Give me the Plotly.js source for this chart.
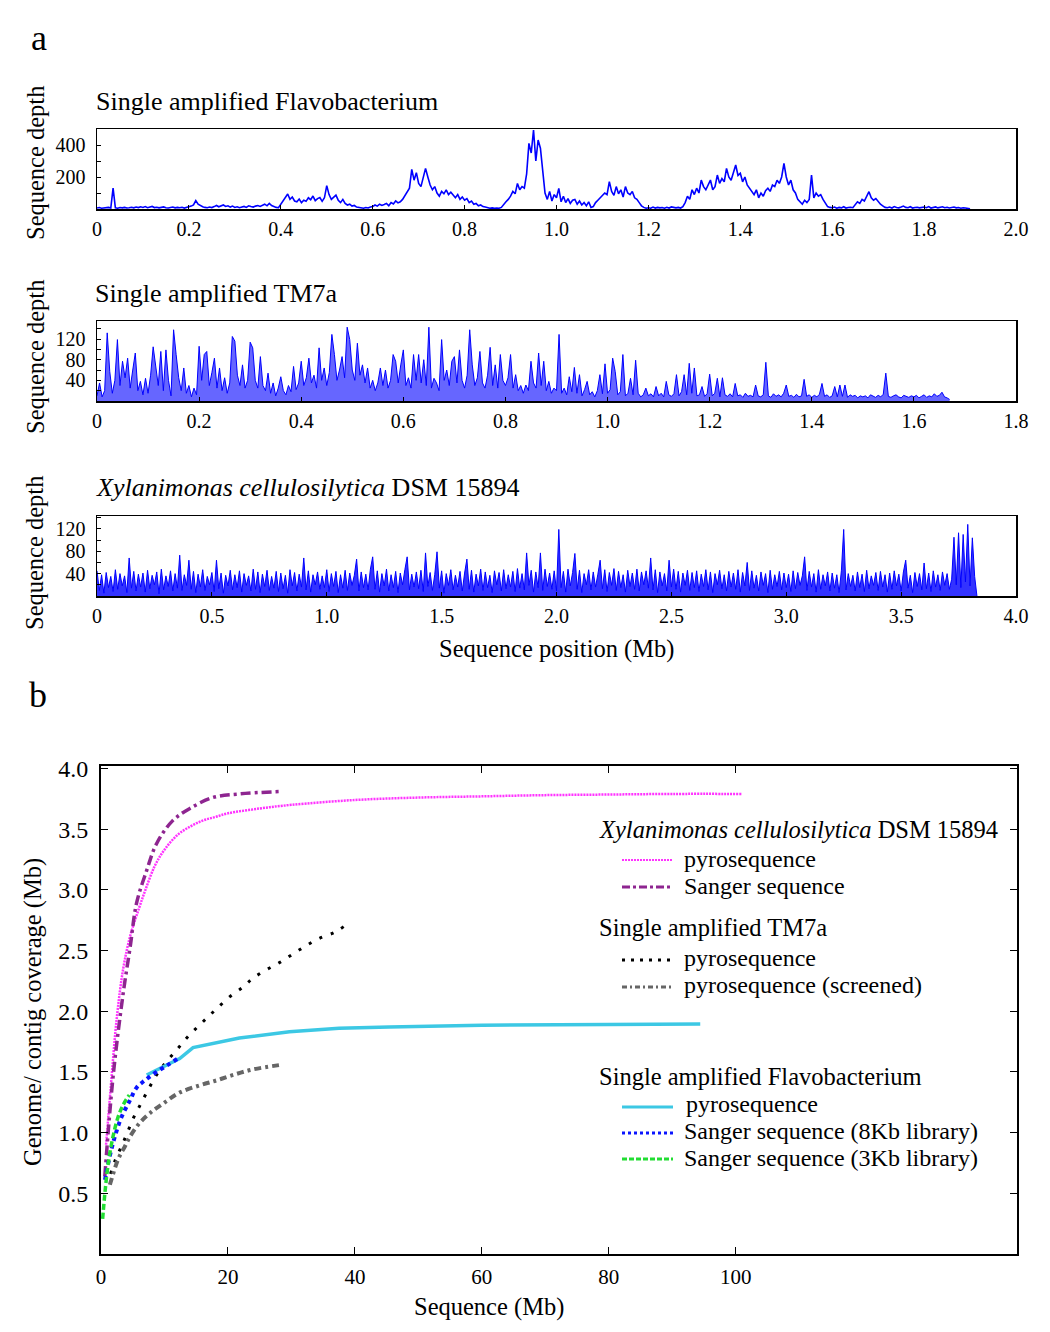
<!DOCTYPE html>
<html><head><meta charset="utf-8">
<script src="https://cdn.plot.ly/plotly-3.0.1.min.js"></script>
<style>html,body{margin:0;padding:0;background:#fff}</style>
</head><body><div id="chart" style="width:1050px;height:1332px"></div>
<script>
// ---------- Panel a: sequence depth (Mb positions, step per point) ----------
const flavoStep = 0.005;
const flavoDepth = [
6,9,5,8,7,10,6,130,8,5,9,7,10,6,8,11,7,12,9,14,
10,15,8,12,16,9,11,7,10,13,8,6,9,12,7,10,8,11,6,9,
12,18,25,52,30,20,14,10,8,12,9,15,22,14,18,25,16,20,12,18,
10,14,8,12,16,10,20,15,12,18,22,16,25,30,20,35,22,14,10,8,
30,55,70,94,60,75,50,45,62,40,55,48,70,58,81,52,65,72,48,70,
146,90,60,75,87,55,40,60,35,25,30,18,22,12,10,8,5,9,6,12,
15,25,18,30,22,28,35,20,40,32,50,38,45,60,85,110,130,248,180,227,
160,140,190,254,200,150,120,140,100,80,110,95,119,90,105,85,70,90,60,75,
55,65,40,50,30,35,20,25,15,12,8,5,7,4,6,5,10,30,45,60,
80,110,95,160,120,140,130,220,410,350,494,300,431,380,250,100,60,110,50,90,
70,129,45,80,40,65,35,55,60,30,50,25,40,20,45,10,15,40,55,70,
80,100,90,171,110,85,140,95,120,75,140,100,90,110,70,60,40,20,10,5,
8,5,12,6,10,7,9,5,11,6,13,8,7,10,6,15,40,80,60,120,
90,130,100,181,140,120,150,181,120,140,212,160,190,170,254,200,180,230,275,210,
223,170,200,150,130,110,90,120,70,100,80,115,130,110,150,140,180,160,200,285,
200,150,180,120,100,60,45,30,55,40,60,212,70,100,80,90,60,40,15,10,
8,12,5,10,7,14,6,9,11,8,30,45,35,60,50,80,108,70,55,65,
45,30,20,10,8,12,6,15,9,7,12,18,10,8,14,6,9,11,7,10,
12,8,15,6,10,13,7,9,14,8,11,6,10,12,7,9,5,8,6,4,2];

const tm7Step = 0.005;
const tm7Depth = [
10,35,8,20,132,57,15,40,119,30,77,45,83,25,60,93,20,38,12,44,
15,50,105,70,30,96,20,99,40,10,138,90,45,20,64,15,30,8,25,12,
106,40,90,96,30,55,83,25,64,20,45,15,35,125,116,50,30,70,25,40,
114,103,40,25,86,30,20,54,15,35,10,25,47,20,12,30,18,67,22,35,
77,30,45,83,35,50,25,103,40,64,30,55,129,90,40,60,86,45,143,119,
60,40,112,50,70,35,64,25,40,20,35,64,30,60,25,40,90,77,35,70,
99,30,45,25,90,40,90,35,80,30,143,25,44,35,20,119,40,60,30,77,
86,35,99,40,25,50,138,70,30,45,96,35,25,50,104,30,70,25,90,40,
30,45,90,25,51,20,30,15,31,20,77,35,25,93,30,77,20,38,15,25,
20,129,15,25,12,47,18,65,15,51,10,22,38,12,18,8,20,51,14,72,
15,22,83,57,12,18,90,10,15,44,12,79,15,8,12,25,10,14,8,28,
10,15,8,38,12,9,14,51,10,18,51,12,73,15,64,10,12,28,9,14,
52,10,15,44,8,45,12,9,14,8,34,10,12,7,15,9,11,8,31,10,
8,12,75,10,7,14,9,12,8,15,31,9,11,7,13,8,10,42,9,12,
7,11,8,13,34,9,12,7,10,28,8,31,9,31,7,12,9,11,6,10,
8,10,6,12,9,7,11,8,13,54,9,7,10,12,8,6,11,9,7,10,
8,11,6,9,12,7,10,8,14,9,11,17,8,6,3];

const xylStep = 0.01;
const xylDepth = [
45,10,38,5,42,15,35,8,47,12,40,18,36,6,68,14,44,9,39,16,
41,7,46,13,37,20,43,4,48,11,36,17,45,9,40,14,73,10,38,19,
64,12,44,6,39,16,47,10,35,20,42,8,64,13,41,5,37,18,46,11,
38,15,45,7,40,19,36,9,48,12,43,6,39,17,46,10,35,14,44,8,
41,13,37,5,47,18,42,9,39,16,68,11,45,7,38,20,43,12,36,15,
47,8,40,17,44,6,38,14,46,10,41,19,37,66,9,43,15,39,11,48,
70,12,45,7,40,18,48,9,38,15,44,6,41,20,47,70,11,39,16,43,
13,46,8,77,17,42,10,38,79,14,45,5,40,19,47,11,37,16,44,9,
41,66,12,46,7,39,18,48,10,43,15,37,6,45,20,42,9,47,13,38,
16,44,8,49,14,40,11,77,19,46,7,43,15,77,10,48,17,41,12,45,
9,119,15,44,7,48,18,42,76,12,46,6,40,20,47,11,43,16,39,64,
13,47,8,42,19,49,10,44,15,38,7,46,17,41,12,48,9,43,20,45,
14,68,11,47,6,43,18,40,9,64,16,48,12,44,7,41,19,46,10,42,
15,45,8,39,17,47,11,43,6,40,20,46,13,38,9,44,16,41,12,47,
7,42,18,60,10,45,14,37,9,43,19,40,6,46,12,38,17,44,11,41,
15,39,8,45,13,42,19,36,70,10,44,16,40,7,47,12,38,18,43,9,
41,14,38,6,45,119,11,40,17,37,9,43,15,39,8,46,13,36,19,42,
10,44,16,38,7,41,12,45,18,39,9,43,64,14,37,6,42,17,40,11,
59,13,41,8,45,16,38,10,43,19,40,12,30,105,20,113,15,110,25,128,
18,104,35,0];

const flavoTickVals = [0,0.2,0.4,0.6,0.8,1.0,1.2,1.4,1.6,1.8,2.0];
const flavoTickText = ['0','0.2','0.4','0.6','0.8','1.0','1.2','1.4','1.6','1.8','2.0'];
const tm7TickVals = [0,0.2,0.4,0.6,0.8,1.0,1.2,1.4,1.6,1.8];
const tm7TickText = ['0','0.2','0.4','0.6','0.8','1.0','1.2','1.4','1.6','1.8'];
const xylTickVals = [0,0.5,1.0,1.5,2.0,2.5,3.0,3.5,4.0];
const xylTickText = ['0','0.5','1.0','1.5','2.0','2.5','3.0','3.5','4.0'];
const flavoYVals = [100,200,300,400];
const flavoYText = ['','200','','400'];
const depthYVals = [20,40,60,80,100,120,140];
const depthYText = ['','40','','80','','120',''];

// ---------- Panel b: coverage curves ----------
const xylPyroX = [0.8,1.5,2.5,3.5,4.6,6,7,8.5,10,12,14,16,18,20,25,30,40,50,60,70,80,90,101];
const xylPyroY = [0.9,1.35,1.95,2.35,2.62,2.85,3.0,3.2,3.33,3.45,3.52,3.57,3.6,3.63,3.67,3.7,3.74,3.76,3.77,3.78,3.785,3.79,3.79];
const xylSangerX = [0.6,1.9,3.5,4.6,5.6,7.2,8.75,11.3,14,17.6,21.8,28.4];
const xylSangerY = [0.64,1.46,2.15,2.53,2.89,3.16,3.38,3.57,3.67,3.76,3.79,3.81];
const tm7PyroX = [1.5,2.3,3.25,4.0,5.1,6.1,7.4,8.75,10.3,11.9,13.5,15.0,16.6,18.2,20.3,22.4,23.9,26,28.1,30.2,32.3,34.4,36.8,38.3];
const tm7PyroY = [0.66,0.78,0.89,0.98,1.12,1.22,1.35,1.475,1.585,1.68,1.78,1.86,1.94,2.02,2.12,2.2,2.27,2.34,2.4,2.47,2.54,2.6,2.65,2.7];
const tm7ScreenX = [1.4,2.7,3.8,4.6,6.1,7.7,9.8,12.4,15.6,18.2,20.8,23.9,28.6];
const tm7ScreenY = [0.57,0.78,0.89,0.97,1.08,1.16,1.24,1.33,1.39,1.43,1.475,1.52,1.56];
const flavoPyroX = [7.2,10.3,12.4,14.5,21.8,29.7,37.5,45.4,60,80,94.4];
const flavoPyroY = [1.475,1.56,1.61,1.70,1.78,1.83,1.86,1.87,1.885,1.89,1.895];
const flavo8kbX = [0.63,1.4,2.2,3.25,4.6,5.6,6.9,8.75,10.6,12.1];
const flavo8kbY = [0.61,0.81,0.97,1.13,1.27,1.37,1.43,1.50,1.56,1.61];
const flavo3kbX = [0.26,0.63,1.15,1.9,2.7,3.5,4.45];
const flavo3kbY = [0.29,0.51,0.75,0.97,1.13,1.23,1.31];
const covXTickVals = [0,20,40,60,80,100];
const covYTickVals = [0.5,1.0,1.5,2.0,2.5,3.0,3.5,4.0];
const covYTickText = ['0.5','1.0','1.5','2.0','2.5','3.0','3.5','4.0'];

// ---------- build ----------
const W = 1050, H = 1332;
const FONT = 'Liberation Serif, Times New Roman, serif';
const fx = p => p / W, fy = p => 1 - p / H;

const traces = [
  {x0:0, dx:flavoStep, y:flavoDepth, xaxis:'x', yaxis:'y', type:'scatter', mode:'lines', line:{color:'#0000ff', width:1.6}, name:'Flavobacterium'},
  {x0:0, dx:tm7Step, y:tm7Depth, xaxis:'x2', yaxis:'y2', type:'scatter', mode:'lines', fill:'tozeroy', fillcolor:'rgba(0,0,255,0.6)', line:{color:'#0000ff', width:1}, name:'TM7a'},
  {x0:0, dx:xylStep, y:xylDepth, xaxis:'x3', yaxis:'y3', type:'scatter', mode:'lines', fill:'tozeroy', fillcolor:'rgba(0,0,255,0.8)', line:{color:'#0000ff', width:1}, name:'Xylanimonas'},
  {x:xylPyroX, y:xylPyroY, xaxis:'x4', yaxis:'y4', mode:'lines', line:{color:'#ff33ff', width:2.5, dash:'2px,1px', shape:'spline'}},
  {x:xylSangerX, y:xylSangerY, xaxis:'x4', yaxis:'y4', mode:'lines', line:{color:'#8e2590', width:3.5, dash:'10px,4px,3px,4px', shape:'spline'}},
  {x:tm7PyroX, y:tm7PyroY, xaxis:'x4', yaxis:'y4', mode:'lines', line:{color:'#000000', width:3, dash:'3px,9px', shape:'spline'}},
  {x:tm7ScreenX, y:tm7ScreenY, xaxis:'x4', yaxis:'y4', mode:'lines', line:{color:'#666666', width:4, dash:'7px,4px,3px,4px', shape:'spline'}},
  {x:flavoPyroX, y:flavoPyroY, xaxis:'x4', yaxis:'y4', mode:'lines', line:{color:'#3cc8e4', width:3.5}},
  {x:flavo8kbX, y:flavo8kbY, xaxis:'x4', yaxis:'y4', mode:'lines', line:{color:'#0a14ff', width:4, dash:'4px,4px', shape:'spline'}},
  {x:flavo3kbX, y:flavo3kbY, xaxis:'x4', yaxis:'y4', mode:'lines', line:{color:'#22dd33', width:3.5, dash:'6px,3px', shape:'spline'}}
];

function xAx(dom, range, vals, text, anchor, ticklen, lw, mirror, size, standoff) {
  return {domain:dom, range:range, anchor:anchor, tickvals:vals, ticktext:text, ticks:'inside', ticklen:ticklen,
    tickwidth:1, tickcolor:'#000', showline:true, linecolor:'#000', linewidth:lw, mirror:mirror,
    showgrid:false, zeroline:false, tickfont:{family:FONT, size:size, color:'#000'}, ticklabelstandoff:standoff, fixedrange:true};
}
function yAx(dom, range, vals, text, anchor, ticklen, lw, size, mirror) {
  return {domain:dom, range:range, anchor:anchor, tickvals:vals, ticktext:text, ticks:'inside', ticklen:ticklen,
    tickwidth:1, tickcolor:'#000', showline:true, linecolor:'#000', linewidth:lw, mirror:mirror,
    showgrid:false, zeroline:false, tickfont:{family:FONT, size:size, color:'#000'}, ticklabelstandoff:6, fixedrange:true};
}

const xdA = [fx(97), fx(1016)];
const layout = {
  width:W, height:H, margin:{l:0,r:0,t:0,b:0}, showlegend:false,
  paper_bgcolor:'#fff', plot_bgcolor:'#fff', font:{family:FONT, color:'#000'},
  xaxis: xAx(xdA, [0,2.0], flavoTickVals, flavoTickText, 'y', 4, 1.5, true, 20, 1),
  yaxis: yAx([fy(209), fy(129)], [0,500], flavoYVals, flavoYText, 'x', 4, 1.5, 20, true),
  xaxis2: xAx(xdA, [0,1.8], tm7TickVals, tm7TickText, 'y2', 4, 1.5, true, 20, 1),
  yaxis2: yAx([fy(401), fy(321)], [0,155], depthYVals, depthYText, 'x2', 4, 1.5, 20, true),
  xaxis3: xAx(xdA, [0,4.0], xylTickVals, xylTickText, 'y3', 4, 1.5, true, 20, 1),
  yaxis3: yAx([fy(596), fy(516)], [0,143], depthYVals, depthYText, 'x3', 4, 1.5, 20, true),
  xaxis4: xAx([fx(101), fx(1017)], [0,144.3], covXTickVals, covXTickVals.map(String), 'y4', 7, 2, 'ticks', 21, 3),
  yaxis4: yAx([fy(1254), fy(766)], [0,4.02], covYTickVals, covYTickText, 'x4', 7, 2, 24, 'ticks'),
  annotations: [], shapes: []
};

function txt(t, x, y, size, opts) {
  layout.annotations.push(Object.assign({text:t, xref:'paper', yref:'paper', x:fx(x), y:fy(y), xanchor:'left', yanchor:'middle',
    showarrow:false, font:{family:FONT, size:size, color:'#000'}}, opts || {}));
}
txt('a', 29, 38, 36);
txt('b', 27, 695, 36);
txt('Single amplified Flavobacterium', 94, 101, 26);
txt('Single amplified TM7a', 93, 294, 26);
txt('<i>Xylanimonas cellulosilytica</i> DSM 15894', 94, 488, 26);
[163, 357, 553].forEach(y => txt('Sequence depth', 35, y, 24.5, {xanchor:'center', textangle:-90}));
txt('Sequence position (Mb)', 556, 649, 24.5, {xanchor:'center'});
txt('Genome/ contig coverage (Mb)', 33, 1012, 24.5, {xanchor:'center', textangle:-90});
txt('Sequence (Mb)', 489, 1307, 24.5, {xanchor:'center'});

// legend in panel b
const LH = 24.5, LF = 24;
txt('<i>Xylanimonas cellulosilytica</i> DSM 15894', 597, 829, LH);
txt('pyrosequence', 682, 859, LF);
txt('Sanger sequence', 682, 886, LF);
txt('Single amplified TM7a', 597, 928, LH);
txt('pyrosequence', 682, 958, LF);
txt('pyrosequence (screened)', 682, 985, LF);
txt('Single amplified Flavobacterium', 597, 1076, LH);
txt('pyrosequence', 684, 1104, LF);
txt('Sanger sequence (8Kb library)', 682, 1131, LF);
txt('Sanger sequence (3Kb library)', 682, 1158, LF);

function sample(y, line) {
  layout.shapes.push({type:'line', xref:'paper', yref:'paper', x0:fx(622), x1:fx(673), y0:fy(y), y1:fy(y), line:line});
}
sample(860, {color:'#ff33ff', width:2, dash:'2px,1px'});
sample(887, {color:'#8e2590', width:3, dash:'8px,3px,3px,3px'});
sample(960, {color:'#000000', width:3, dash:'3px,6px'});
sample(987, {color:'#666666', width:3, dash:'5px,3px,2px,3px'});
sample(1107, {color:'#3cc8e4', width:3});
sample(1133, {color:'#0a14ff', width:3, dash:'3px,3px'});
sample(1159, {color:'#22dd33', width:3, dash:'5px,2px'});

Plotly.newPlot('chart', traces, layout, {displayModeBar:false, staticPlot:true});
</script>
</body></html>
